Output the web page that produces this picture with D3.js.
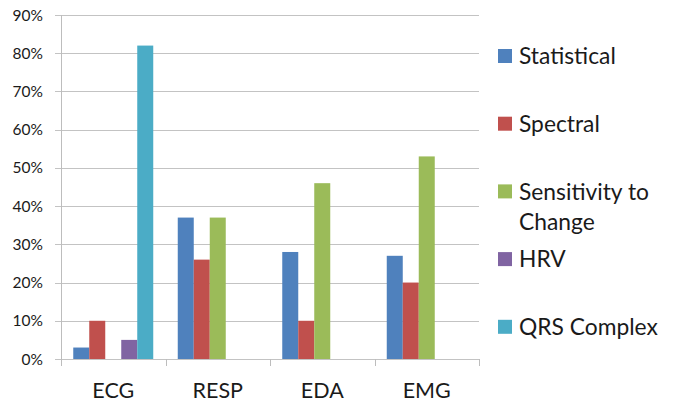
<!DOCTYPE html>
<html>
<head>
<meta charset="utf-8">
<script src="https://cdn.jsdelivr.net/npm/d3@7"></script>
<style>
  html, body { margin: 0; padding: 0; background: #fff; }
  svg { display: block; font-family: Lato, "Open Sans", sans-serif; }
</style>
</head>
<body>
<svg id="chart" width="683" height="402"></svg>
<script>
// Signal types along the x axis
const categories = ["ECG", "RESP", "EDA", "EMG"];

// Feature groups (legend order) and their share per signal, in percent
const seriesNames = ["Statistical", "Spectral", "Sensitivity to Change", "HRV", "QRS Complex"];
const statistical = [3, 37, 28, 27];
const spectral = [10, 26, 10, 20];
const sensitivity = [null, 37, 46, 53];
const hrv = [5, null, null, null];
const qrsComplex = [82, null, null, null];
const seriesValues = [statistical, spectral, sensitivity, hrv, qrsComplex];

// Legend labels, broken into lines
const legendLines = [["Statistical"], ["Spectral"], ["Sensitivity to", "Change"], ["HRV"], ["QRS Complex"]];

// Y axis ticks
const yTicks = [0, 10, 20, 30, 40, 50, 60, 70, 80, 90];

const colors = ["#4F81BD", "#C0504D", "#9BBB59", "#8064A2", "#4BACC6"];

const svg = d3.select("#chart");
const plot = { left: 61, right: 479, top: 15, bottom: 359 };

const x = d3.scaleBand().domain(categories).range([plot.left, plot.right]).paddingInner(0).paddingOuter(0);
const xInner = d3.scaleBand().domain(seriesNames).range([0, x.bandwidth()]).paddingInner(0).paddingOuter(0.766);
const y = d3.scaleLinear().domain([0, 90]).range([plot.bottom, plot.top]);

// Horizontal gridlines
svg.append("g")
  .selectAll("line")
  .data(yTicks)
  .join("line")
  .attr("x1", plot.left - 6)
  .attr("x2", plot.right)
  .attr("y1", d => Math.round(y(d)) + 0.5)
  .attr("y2", d => Math.round(y(d)) + 0.5)
  .attr("stroke", "#c3c3c3")
  .attr("stroke-width", 1);

// Y axis labels
svg.append("g")
  .selectAll("text")
  .data(yTicks)
  .join("text")
  .attr("x", 43)
  .attr("y", d => y(d))
  .attr("dy", "0.36em")
  .attr("text-anchor", "end")
  .attr("font-size", 15.5)
  .attr("fill", "#1a1a1a")
  .text(d => d + "%");

// Y axis line
svg.append("line")
  .attr("x1", plot.left + 0.5).attr("x2", plot.left + 0.5)
  .attr("y1", plot.top).attr("y2", plot.bottom + 7)
  .attr("stroke", "#bdbdbd");

// Category separator ticks below the baseline
svg.append("g")
  .selectAll("line")
  .data(categories.slice(1).concat(["_end"]))
  .join("line")
  .attr("x1", (d, i) => Math.round(i < categories.length - 1 ? x(d) : plot.right) + 0.5)
  .attr("x2", (d, i) => Math.round(i < categories.length - 1 ? x(d) : plot.right) + 0.5)
  .attr("y1", plot.bottom)
  .attr("y2", plot.bottom + 7)
  .attr("stroke", "#bdbdbd");

// Bars
const groups = svg.append("g")
  .selectAll("g")
  .data(categories)
  .join("g")
  .attr("transform", d => `translate(${x(d)},0)`);

groups.selectAll("rect")
  .data((c, ci) => seriesNames.map((s, si) => ({ s, si, v: seriesValues[si][ci] })).filter(d => d.v != null))
  .join("rect")
  .attr("x", d => xInner(d.s))
  .attr("width", xInner.bandwidth())
  .attr("y", d => y(d.v))
  .attr("height", d => y(0) - y(d.v))
  .attr("fill", d => colors[d.si]);

// Category labels
svg.append("g")
  .selectAll("text")
  .data(categories)
  .join("text")
  .attr("x", d => x(d) + x.bandwidth() / 2)
  .attr("y", 398)
  .attr("text-anchor", "middle")
  .attr("font-size", 21.5)
  .attr("fill", "#1a1a1a")
  .text(d => d);

// Legend: entries sit on a fixed pitch; wrapped lines run on below the first
const itemStep = 67.7, lineStep = 30.7;
const legend = svg.append("g");
legendLines.forEach((lines, i) => {
  const ly = 56 + i * itemStep;
  legend.append("rect")
    .attr("x", 498).attr("y", ly - 7)
    .attr("width", 14).attr("height", 14)
    .attr("fill", colors[i]);
  lines.forEach((t, k) => {
    legend.append("text")
      .attr("x", 519)
      .attr("y", ly + k * lineStep)
      .attr("dy", "0.36em")
      .attr("font-size", 22.8)
      .attr("fill", "#1a1a1a")
      .text(t);
  });
});
</script>
</body>
</html>
